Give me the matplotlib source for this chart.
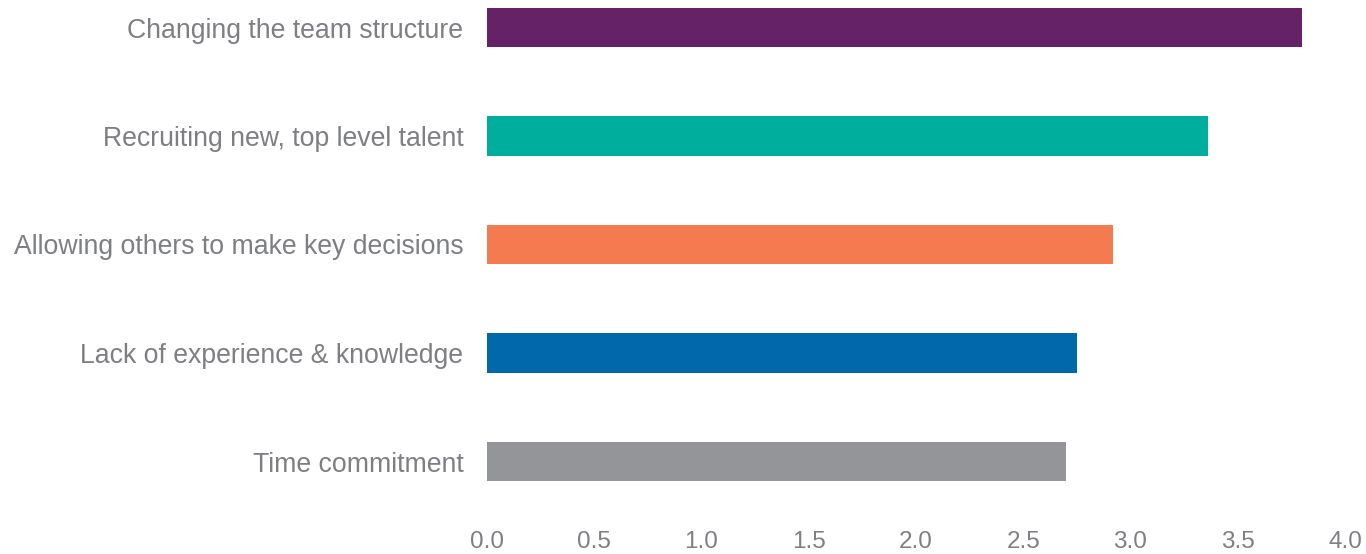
import matplotlib.pyplot as plt

plt.rcParams['font.family'] = ['Liberation Sans', 'DejaVu Sans']

# bottom-to-top order
labels = ["Time commitment", "Lack of experience & knowledge",
          "Allowing others to make key decisions",
          "Recruiting new, top level talent", "Changing the team structure"]
scores = [2.70, 2.75, 2.92, 3.36, 3.80]
colors = ["#939598", "#0068ab", "#f47b50", "#00ae9e", "#662266"]
xticks = [0.0, 0.5, 1.0, 1.5, 2.0, 2.5, 3.0, 3.5, 4.0]

fig = plt.figure(figsize=(13.66, 5.54), dpi=100)
ax = fig.add_axes([487 / 1366, 1 - 528 / 554, (1345 - 487) / 1366, 528 / 554])

pos = list(range(len(labels)))
ax.barh(pos, scores, height=0.36, color=colors)

ax.set_xlim(0, 4.0)
ax.set_ylim(-(528 - 461.5) / 108.5, 4 + 27.5 / 108.5)
ax.set_xticks(xticks)
ax.set_xticklabels([f"{t:.1f}" for t in xticks])
ax.set_yticks(pos)
ax.set_yticklabels(labels)

ax.tick_params(axis='y', length=0, pad=17, labelsize=19.2, labelcolor='#7d7f83')
ax.tick_params(axis='x', length=0, pad=2, labelsize=17.5, labelcolor='#7d7f83')
for s in ax.spines.values():
    s.set_visible(False)

fig.savefig("out.png", dpi=100)
